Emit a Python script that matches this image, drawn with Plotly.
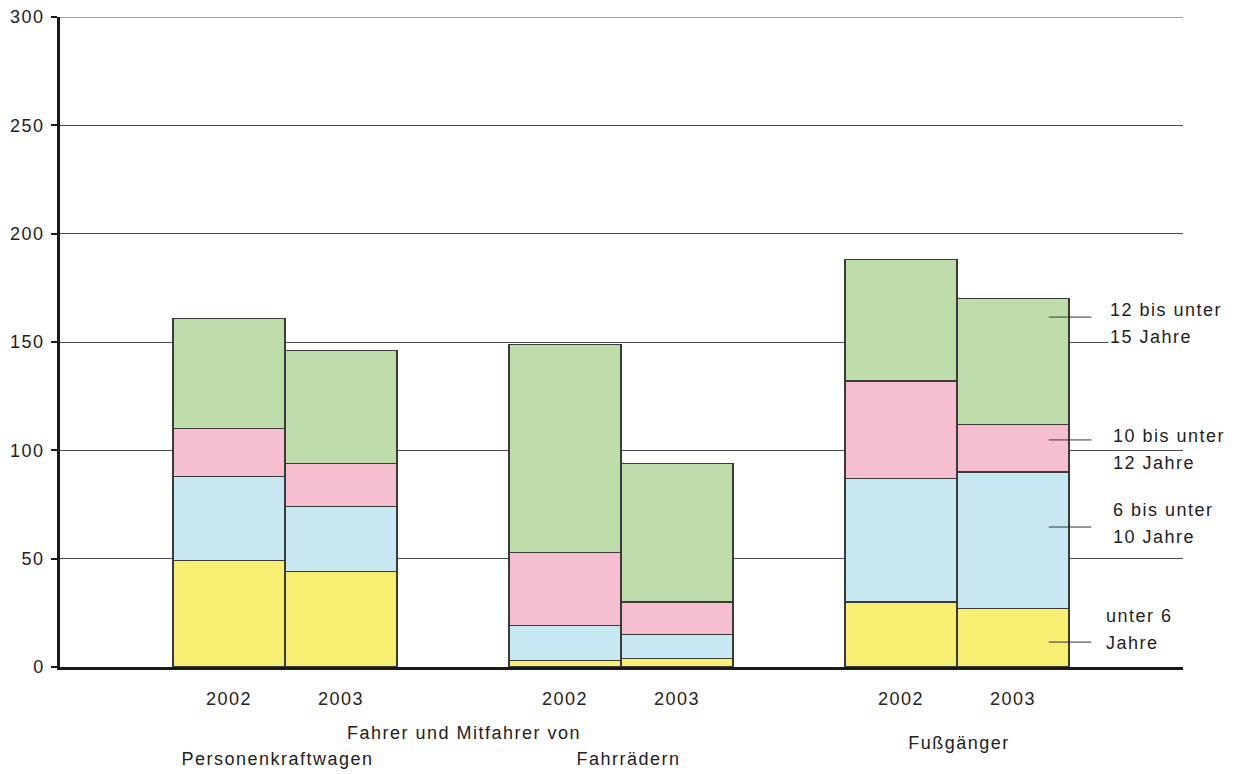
import plotly.graph_objects as go

# ---- data ----
groups = ["Personenkraftwagen", "Fahrrädern", "Fußgänger"]
years = ["2002", "2003"]
age_classes = ["unter 6 Jahre", "6 bis unter 10 Jahre", "10 bis unter 12 Jahre", "12 bis unter 15 Jahre"]
# values per bar: order PKW 2002, PKW 2003, Rad 2002, Rad 2003, Fuß 2002, Fuß 2003
unter6 = [49, 44, 3, 4, 30, 27]
bis10 = [39, 30, 16, 11, 57, 63]
bis12 = [22, 20, 34, 15, 45, 22]
bis15 = [51, 52, 96, 64, 56, 58]
series = [unter6, bis10, bis12, bis15]
colors = ["#F7EE72", "#C8E8F1", "#F6BFD0", "#BFDDAB"]
y_ticks = [0, 50, 100, 150, 200, 250, 300]

# bar positions: group index * 3 + year index + 1
xpos = [g * 3 + i + 1 for g in range(len(groups)) for i in range(len(years))]
xlabels = [y for _ in groups for y in years]

FONT = "Liberation Sans, Arial, sans-serif"
FS = 18
TXT = "#222222"
GRID = "#4a4a4a"

fig = go.Figure()
for name, vals, col in zip(age_classes, series, colors):
    fig.add_trace(go.Bar(
        x=xpos, y=vals, name=name, width=1,
        marker=dict(color=col, line=dict(color="#3a3a3a", width=1.2)),
        showlegend=False,
    ))

fig.update_layout(
    width=1238, height=774,
    margin=dict(l=60, r=55, t=17, b=107, autoexpand=False),
    barmode="stack",
    plot_bgcolor="white", paper_bgcolor="white",
    font=dict(family=FONT, size=FS, color=TXT),
)
fig.update_yaxes(
    range=[0, 300], tickvals=y_ticks, automargin=False,
    showgrid=True, gridcolor=GRID, gridwidth=1,
    showline=True, linecolor="#1a1a1a", linewidth=2.5,
    ticks="outside", ticklen=6, tickwidth=2, tickcolor="#1a1a1a",
    zeroline=False, tickfont=dict(size=FS), ticklabelstandoff=3,
)
fig.update_xaxes(
    range=[-0.509, 9.518], tickvals=xpos, ticktext=xlabels, automargin=False,
    showgrid=False, zeroline=False,
    showline=True, linecolor="#1a1a1a", linewidth=2.5,
    ticks="", ticklabelstandoff=14, tickfont=dict(size=FS),
)

# top gridline at 300
fig.add_shape(type="line", xref="paper", x0=0, x1=1, yref="y", y0=300, y1=300,
              line=dict(color=GRID, width=1), layer="below")

# category labels under the axis (pixel rows converted to paper coords)
cat_labels = [
    ("Fahrer und Mitfahrer von", 3.1, 733),
    ("Personenkraftwagen", 1.43, 759),
    ("Fahrrädern", 4.57, 759),
    ("Fußgänger", 7.52, 743),
]
for txt, xv, ypx in cat_labels:
    fig.add_annotation(text=txt, x=xv, xref="x", y=(667 - ypx) / 650, yref="paper",
                       showarrow=False, xanchor="center", yanchor="middle",
                       font=dict(size=FS, family=FONT, color=TXT))

# right-side legend labels with leader lines
legend_lines = [
    ("12 bis unter", "15 Jahre", 164.8, 152.3, 161.5, 8.848),
    ("10 bis unter", "12 Jahre", 106.6, 94.2, 104.8, 8.875),
    ("6 bis unter", "10 Jahre", 72.5, 60.0, 64.6, 8.875),
    ("unter 6", "Jahre", 23.5, 11.1, 11.5, 8.81),
]
for l1, l2, y1, y2, yl, xl in legend_lines:
    for t, yy in ((l1, y1), (l2, y2)):
        fig.add_annotation(text=t, x=xl, xref="x", y=yy, yref="y",
                           showarrow=False, xanchor="left", yanchor="middle",
                           width=118, align="left",
                           bgcolor="white", borderpad=1,
                           font=dict(size=FS, family=FONT, color=TXT))
    fig.add_shape(type="line", x0=8.32, x1=8.70, y0=yl, y1=yl, xref="x", yref="y",
                  line=dict(color="#333333", width=1))

post = ("document.body.style.margin='0';"
        "document.querySelectorAll('text').forEach(function(t){"
        "t.setAttribute('letter-spacing','1.5px');});")
fig.write_html("out.html", post_script=post, config={"displayModeBar": False})
